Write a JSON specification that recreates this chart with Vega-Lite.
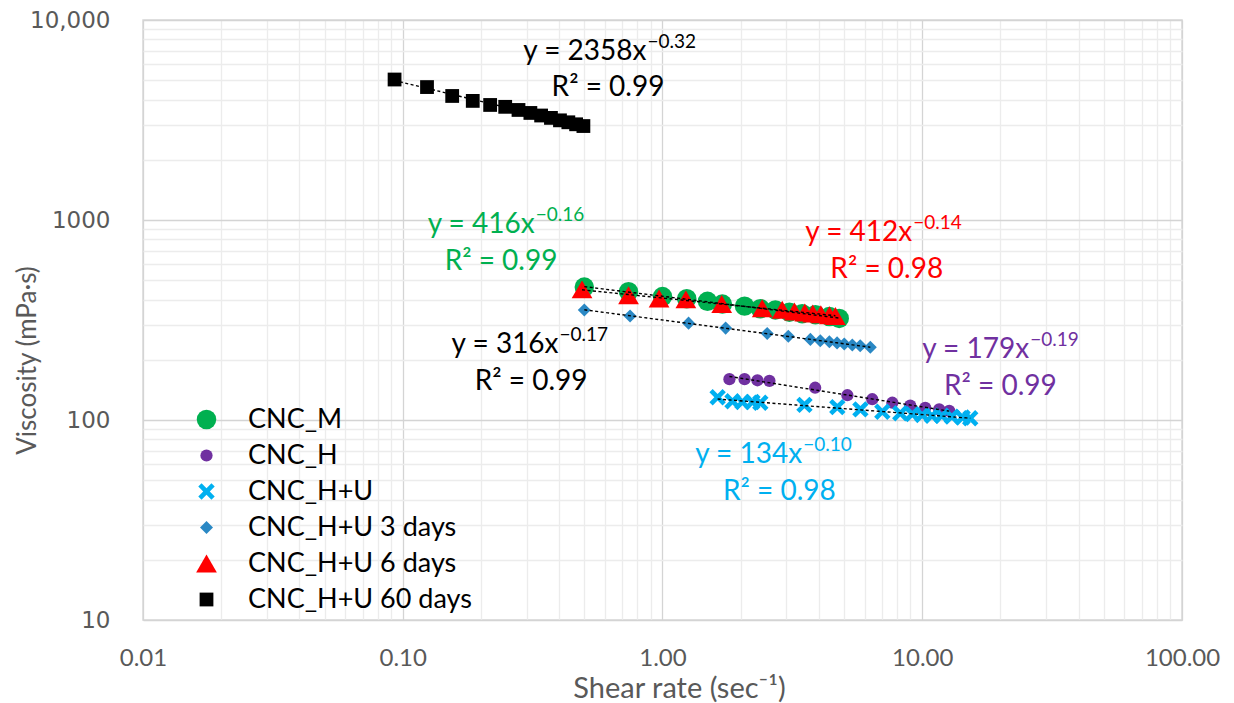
{
  "$schema": "https://vega.github.io/schema/vega-lite/v6.json",
  "width": 1039,
  "height": 600,
  "autosize": {"type": "none"},
  "padding": {"left": 143, "top": 20, "right": 52, "bottom": 83},
  "background": "white",
  "config": {
    "font": "Lato",
    "view": {"stroke": "#d9d9d9", "strokeWidth": 1.5}
  },
  "datasets": {
    "points": [
      {"series": "CNC_M", "shear": 0.50, "viscosity": 462},
      {"series": "CNC_M", "shear": 0.74, "viscosity": 438},
      {"series": "CNC_M", "shear": 1.00, "viscosity": 414},
      {"series": "CNC_M", "shear": 1.24, "viscosity": 404},
      {"series": "CNC_M", "shear": 1.49, "viscosity": 392},
      {"series": "CNC_M", "shear": 1.70, "viscosity": 380},
      {"series": "CNC_M", "shear": 2.07, "viscosity": 371},
      {"series": "CNC_M", "shear": 2.38, "viscosity": 360},
      {"series": "CNC_M", "shear": 2.72, "viscosity": 355},
      {"series": "CNC_M", "shear": 3.08, "viscosity": 346},
      {"series": "CNC_M", "shear": 3.45, "viscosity": 340},
      {"series": "CNC_M", "shear": 3.88, "viscosity": 336},
      {"series": "CNC_M", "shear": 4.39, "viscosity": 329},
      {"series": "CNC_M", "shear": 4.79, "viscosity": 322},

      {"series": "CNC_H", "shear": 1.81, "viscosity": 160},
      {"series": "CNC_H", "shear": 2.07, "viscosity": 160},
      {"series": "CNC_H", "shear": 2.32, "viscosity": 158},
      {"series": "CNC_H", "shear": 2.58, "viscosity": 157},
      {"series": "CNC_H", "shear": 3.87, "viscosity": 145},
      {"series": "CNC_H", "shear": 5.15, "viscosity": 133},
      {"series": "CNC_H", "shear": 6.42, "viscosity": 127},
      {"series": "CNC_H", "shear": 7.67, "viscosity": 122},
      {"series": "CNC_H", "shear": 8.99, "viscosity": 118},
      {"series": "CNC_H", "shear": 10.27, "viscosity": 115},
      {"series": "CNC_H", "shear": 11.62, "viscosity": 113},
      {"series": "CNC_H", "shear": 12.7, "viscosity": 111},

      {"series": "CNC_H+U", "shear": 1.63, "viscosity": 130},
      {"series": "CNC_H+U", "shear": 1.86, "viscosity": 124},
      {"series": "CNC_H+U", "shear": 2.03, "viscosity": 123},
      {"series": "CNC_H+U", "shear": 2.22, "viscosity": 123},
      {"series": "CNC_H+U", "shear": 2.38, "viscosity": 122},
      {"series": "CNC_H+U", "shear": 3.52, "viscosity": 119},
      {"series": "CNC_H+U", "shear": 4.71, "viscosity": 116},
      {"series": "CNC_H+U", "shear": 5.78, "viscosity": 113},
      {"series": "CNC_H+U", "shear": 7.02, "viscosity": 110},
      {"series": "CNC_H+U", "shear": 8.23, "viscosity": 108},
      {"series": "CNC_H+U", "shear": 9.16, "viscosity": 107},
      {"series": "CNC_H+U", "shear": 10.0, "viscosity": 106},
      {"series": "CNC_H+U", "shear": 10.9, "viscosity": 105},
      {"series": "CNC_H+U", "shear": 11.9, "viscosity": 105},
      {"series": "CNC_H+U", "shear": 13.0, "viscosity": 104},
      {"series": "CNC_H+U", "shear": 14.3, "viscosity": 103},
      {"series": "CNC_H+U", "shear": 15.3, "viscosity": 102},

      {"series": "CNC_H+U 3 days", "shear": 0.50, "viscosity": 355},
      {"series": "CNC_H+U 3 days", "shear": 0.75, "viscosity": 331},
      {"series": "CNC_H+U 3 days", "shear": 1.26, "viscosity": 305},
      {"series": "CNC_H+U 3 days", "shear": 1.75, "viscosity": 288},
      {"series": "CNC_H+U 3 days", "shear": 2.53, "viscosity": 271},
      {"series": "CNC_H+U 3 days", "shear": 3.05, "viscosity": 262},
      {"series": "CNC_H+U 3 days", "shear": 3.71, "viscosity": 253},
      {"series": "CNC_H+U 3 days", "shear": 4.05, "viscosity": 249},
      {"series": "CNC_H+U 3 days", "shear": 4.39, "viscosity": 246},
      {"series": "CNC_H+U 3 days", "shear": 4.70, "viscosity": 243},
      {"series": "CNC_H+U 3 days", "shear": 5.01, "viscosity": 240},
      {"series": "CNC_H+U 3 days", "shear": 5.38, "viscosity": 237},
      {"series": "CNC_H+U 3 days", "shear": 5.77, "viscosity": 235},
      {"series": "CNC_H+U 3 days", "shear": 6.31, "viscosity": 231},

      {"series": "CNC_H+U 6 days", "shear": 0.49, "viscosity": 450},
      {"series": "CNC_H+U 6 days", "shear": 0.74, "viscosity": 420},
      {"series": "CNC_H+U 6 days", "shear": 0.97, "viscosity": 405},
      {"series": "CNC_H+U 6 days", "shear": 1.23, "viscosity": 401},
      {"series": "CNC_H+U 6 days", "shear": 1.69, "viscosity": 380},
      {"series": "CNC_H+U 6 days", "shear": 2.42, "viscosity": 362},
      {"series": "CNC_H+U 6 days", "shear": 2.89, "viscosity": 356},
      {"series": "CNC_H+U 6 days", "shear": 3.22, "viscosity": 349},
      {"series": "CNC_H+U 6 days", "shear": 3.53, "viscosity": 345},
      {"series": "CNC_H+U 6 days", "shear": 3.79, "viscosity": 341},
      {"series": "CNC_H+U 6 days", "shear": 4.07, "viscosity": 338},
      {"series": "CNC_H+U 6 days", "shear": 4.39, "viscosity": 334},
      {"series": "CNC_H+U 6 days", "shear": 4.63, "viscosity": 331},

      {"series": "CNC_H+U 60 days", "shear": 0.093, "viscosity": 5040},
      {"series": "CNC_H+U 60 days", "shear": 0.124, "viscosity": 4620},
      {"series": "CNC_H+U 60 days", "shear": 0.155, "viscosity": 4170},
      {"series": "CNC_H+U 60 days", "shear": 0.186, "viscosity": 3940},
      {"series": "CNC_H+U 60 days", "shear": 0.217, "viscosity": 3760},
      {"series": "CNC_H+U 60 days", "shear": 0.248, "viscosity": 3680},
      {"series": "CNC_H+U 60 days", "shear": 0.279, "viscosity": 3550},
      {"series": "CNC_H+U 60 days", "shear": 0.310, "viscosity": 3430},
      {"series": "CNC_H+U 60 days", "shear": 0.341, "viscosity": 3330},
      {"series": "CNC_H+U 60 days", "shear": 0.372, "viscosity": 3240},
      {"series": "CNC_H+U 60 days", "shear": 0.403, "viscosity": 3150},
      {"series": "CNC_H+U 60 days", "shear": 0.434, "viscosity": 3080},
      {"series": "CNC_H+U 60 days", "shear": 0.465, "viscosity": 3010},
      {"series": "CNC_H+U 60 days", "shear": 0.496, "viscosity": 2950}
    ],
    "fits": [
      {"series": "CNC_H+U 60 days", "x": 0.868, "y": 6918, "eq": "y = 2358x", "exp": "−0.32", "rx": 0.617, "ry": 4571, "r2": "R² = 0.99"},
      {"series": "CNC_M", "x": 0.322, "y": 944, "eq": "y = 416x", "exp": "−0.16", "rx": 0.239, "ry": 617, "r2": "R² = 0.99"},
      {"series": "CNC_H+U 6 days", "x": 9.15, "y": 861, "eq": "y = 412x", "exp": "−0.14", "rx": 7.30, "ry": 562, "r2": "R² = 0.98"},
      {"series": "CNC_H+U 3 days", "x": 0.398, "y": 237, "eq": "y = 316x", "exp": "−0.17", "rx": 0.312, "ry": 155, "r2": "R² = 0.99"},
      {"series": "CNC_H", "x": 25.8, "y": 224, "eq": "y = 179x", "exp": "−0.19", "rx": 20.0, "ry": 146, "r2": "R² = 0.99"},
      {"series": "CNC_H+U", "x": 3.45, "y": 66.8, "eq": "y = 134x", "exp": "−0.10", "rx": 2.82, "ry": 43.7, "r2": "R² = 0.98"}
    ]
  },
  "layer": [
    {
      "data": {"name": "points"},
      "mark": {"type": "point", "filled": true, "opacity": 1, "strokeWidth": 0},
      "encoding": {
        "x": {
          "field": "shear",
          "type": "quantitative",
          "scale": {"type": "log", "domain": [0.01, 100], "nice": false},
          "axis": {
            "values": [0.01, 0.02, 0.03, 0.04, 0.05, 0.06, 0.07, 0.08, 0.09, 0.1, 0.2, 0.3, 0.4, 0.5, 0.6, 0.7, 0.8, 0.9, 1, 2, 3, 4, 5, 6, 7, 8, 9, 10, 20, 30, 40, 50, 60, 70, 80, 90, 100],
            "labelExpr": "indexof([0.01, 0.1, 1, 10, 100], datum.value) >= 0 ? format(datum.value, '.2f') : ''",
            "grid": true,
            "gridColor": {"condition": {"test": "indexof([0.01, 0.1, 1, 10, 100], datum.value) >= 0", "value": "#d4d4d4"}, "value": "#ececec"},
            "gridWidth": 1.3,
            "ticks": false,
            "domain": false,
            "labelFont": "Lato",
            "labelFontSize": 24,
            "labelColor": "#595959",
            "labelPadding": 26,
            "labelOverlap": false,
            "labelFlush": false,
            "title": "Shear rate (sec⁻¹)",
            "titleFont": "Lato",
            "titleFontSize": 29,
            "titleFontWeight": "normal",
            "titleColor": "#595959",
            "titleX": 536,
            "titleY": 68,
            "titleBaseline": "middle",
            "titleAlign": "center"
          }
        },
        "y": {
          "field": "viscosity",
          "type": "quantitative",
          "scale": {"type": "log", "domain": [10, 10000], "nice": false},
          "axis": {
            "values": [10, 20, 30, 40, 50, 60, 70, 80, 90, 100, 200, 300, 400, 500, 600, 700, 800, 900, 1000, 2000, 3000, 4000, 5000, 6000, 7000, 8000, 9000, 10000],
            "labelExpr": "datum.value == 10000 ? '10,000' : (indexof([10, 100, 1000], datum.value) >= 0 ? '' + datum.value : '')",
            "grid": true,
            "gridColor": {"condition": {"test": "indexof([10, 100, 1000, 10000], datum.value) >= 0", "value": "#d4d4d4"}, "value": "#ececec"},
            "gridWidth": 1.3,
            "ticks": false,
            "domain": false,
            "labelFont": "DejaVu Sans",
            "labelFontSize": 23,
            "labelColor": "#595959",
            "labelPadding": 33,
            "labelOverlap": false,
            "labelFlush": false,
            "title": "Viscosity (mPa·s)",
            "titleFont": "Lato",
            "titleFontSize": 26,
            "titleFontWeight": "normal",
            "titleColor": "#595959",
            "titleAngle": -90,
            "titleX": -116,
            "titleY": 340,
            "titleAlign": "center",
            "titleBaseline": "middle"
          }
        },
        "color": {
          "field": "series",
          "type": "nominal",
          "scale": {
            "domain": ["CNC_M", "CNC_H", "CNC_H+U", "CNC_H+U 3 days", "CNC_H+U 6 days", "CNC_H+U 60 days"],
            "range": ["#00b050", "#7030a0", "#00b0f0", "#2a88c4", "#ff0000", "#000000"]
          },
          "legend": {
            "orient": "none",
            "legendX": 50,
            "legendY": 386,
            "title": null,
            "labelFont": "Lato",
            "labelFontSize": 27,
            "labelColor": "#000000",
            "labelLimit": 0,
            "labelOffset": 28,
            "rowPadding": 8,
            "symbolStrokeWidth": 0
          }
        },
        "shape": {
          "field": "series",
          "type": "nominal",
          "scale": {
            "domain": ["CNC_M", "CNC_H", "CNC_H+U", "CNC_H+U 3 days", "CNC_H+U 6 days", "CNC_H+U 60 days"],
            "range": ["circle", "circle", "M-1,-0.6L-0.6,-1L0,-0.4L0.6,-1L1,-0.6L0.4,0L1,0.6L0.6,1L0,0.4L-0.6,1L-1,0.6L-0.4,0Z", "diamond", "triangle-up", "square"]
          }
        },
        "size": {
          "field": "series",
          "type": "nominal",
          "scale": {
            "type": "ordinal",
            "domain": ["CNC_M", "CNC_H", "CNC_H+U", "CNC_H+U 3 days", "CNC_H+U 6 days", "CNC_H+U 60 days"],
            "range": [380, 150, 270, 170, 430, 190]
          }
        }
      }
    },
    {
      "data": {"name": "points"},
      "transform": [
        {"regression": "viscosity", "on": "shear", "groupby": ["series"], "method": "pow"}
      ],
      "mark": {"type": "line", "color": "#000000", "strokeDash": [3, 2.5], "strokeWidth": 1.4},
      "encoding": {
        "x": {"field": "shear", "type": "quantitative"},
        "y": {"field": "viscosity", "type": "quantitative"},
        "detail": {"field": "series", "type": "nominal"}
      }
    },
    {
      "data": {"name": "fits"},
      "mark": {"type": "text", "align": "right", "baseline": "middle", "font": "Lato", "fontSize": 28},
      "encoding": {
        "x": {"field": "x", "type": "quantitative"},
        "y": {"field": "y", "type": "quantitative"},
        "text": {"field": "eq"},
        "color": {
          "condition": {"test": "datum.series == 'CNC_H+U 3 days'", "value": "#000000"},
          "field": "series",
          "type": "nominal"
        }
      }
    },
    {
      "data": {"name": "fits"},
      "mark": {"type": "text", "align": "left", "baseline": "middle", "font": "Lato", "fontSize": 19, "dx": 1, "dy": -10},
      "encoding": {
        "x": {"field": "x", "type": "quantitative"},
        "y": {"field": "y", "type": "quantitative"},
        "text": {"field": "exp"},
        "color": {
          "condition": {"test": "datum.series == 'CNC_H+U 3 days'", "value": "#000000"},
          "field": "series",
          "type": "nominal"
        }
      }
    },
    {
      "data": {"name": "fits"},
      "mark": {"type": "text", "align": "center", "baseline": "middle", "font": "Lato", "fontSize": 28},
      "encoding": {
        "x": {"field": "rx", "type": "quantitative"},
        "y": {"field": "ry", "type": "quantitative"},
        "text": {"field": "r2"},
        "color": {
          "condition": {"test": "datum.series == 'CNC_H+U 3 days'", "value": "#000000"},
          "field": "series",
          "type": "nominal"
        }
      }
    }
  ]
}
